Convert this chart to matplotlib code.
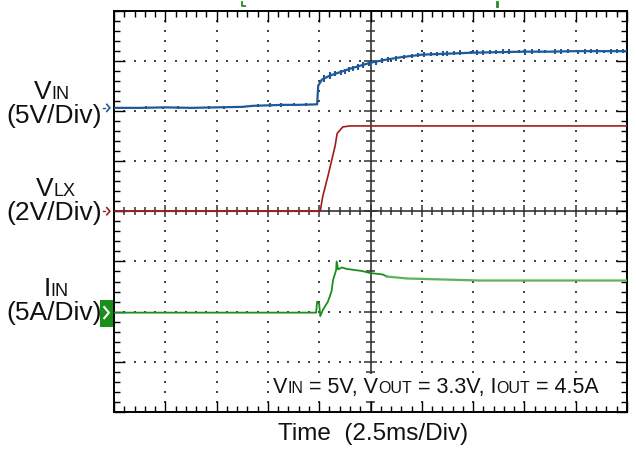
import numpy as np
import matplotlib
matplotlib.use("Agg")
import matplotlib.pyplot as plt
from matplotlib.collections import LineCollection
from matplotlib.patches import Rectangle
from matplotlib.offsetbox import TextArea, HPacker, AnnotationBbox

plt.rcParams['font.family'] = ['Liberation Sans', 'DejaVu Sans']

# scope screen: 10 x 8 divisions
N_XDIV, N_YDIV = 10, 8

# VIN trace (blue), time in div, level in div
vin_t = [0.0, 0.5, 1.0, 1.5, 2.0, 2.5, 2.7, 3.0, 3.3, 3.6, 3.96, 3.98, 4.05, 4.2,
         4.4, 4.6, 4.8, 5.0, 5.3, 5.6, 6.0, 6.5, 7.0, 7.5, 8.0, 8.5, 9.0, 9.5, 10.0]
vin_v = [6.06, 6.06, 6.07, 6.06, 6.07, 6.08, 6.10, 6.11, 6.12, 6.12, 6.13, 6.50, 6.62, 6.70,
         6.77, 6.84, 6.90, 6.96, 7.02, 7.07, 7.12, 7.14, 7.16, 7.17, 7.18, 7.18, 7.19, 7.19, 7.19]
# noise glitches on VIN
vin_spk_t = [0.10, 0.35, 0.62, 0.95, 1.25, 1.55, 1.85, 2.15, 2.50, 2.80, 3.05, 3.25, 3.50, 3.75,
             4.10, 4.22, 4.30, 4.42, 4.50, 4.58, 4.65, 4.75, 4.85, 4.97, 5.10, 5.22, 5.35, 5.50,
             5.65, 5.80, 5.92, 6.05, 6.18, 6.30, 6.42, 6.50, 6.62, 6.75, 6.95, 7.08, 7.20, 7.33,
             7.45, 7.58, 7.70, 7.90, 8.02, 8.15, 8.28, 8.40, 8.60, 8.72, 8.85, 9.05, 9.18, 9.30,
             9.42, 9.55, 9.68, 9.80, 9.92]
vin_spk_lo = [6.03, 6.04, 6.03, 6.04, 6.03, 6.04, 6.04, 6.03, 6.05, 6.07, 6.08, 6.08, 6.09, 6.10,
              6.58, 6.64, 6.69, 6.72, 6.73, 6.77, 6.80, 6.82, 6.86, 6.90, 6.92, 6.95, 6.98, 7.00,
              7.03, 7.05, 7.07, 7.08, 7.09, 7.10, 7.10, 7.10, 7.11, 7.12, 7.13, 7.11, 7.12, 7.14,
              7.14, 7.13, 7.13, 7.15, 7.12, 7.14, 7.15, 7.15, 7.13, 7.14, 7.15, 7.14, 7.13, 7.15,
              7.14, 7.16, 7.14, 7.15, 7.15]
vin_spk_hi = [6.08, 6.08, 6.09, 6.08, 6.09, 6.08, 6.09, 6.09, 6.10, 6.13, 6.15, 6.16, 6.15, 6.15,
              6.72, 6.78, 6.80, 6.82, 6.84, 6.88, 6.90, 6.93, 6.97, 6.99, 7.01, 7.05, 7.08, 7.10,
              7.12, 7.14, 7.15, 7.17, 7.17, 7.18, 7.19, 7.20, 7.20, 7.21, 7.20, 7.22, 7.22, 7.21,
              7.22, 7.23, 7.23, 7.22, 7.24, 7.24, 7.23, 7.22, 7.23, 7.24, 7.24, 7.22, 7.24, 7.24,
              7.23, 7.22, 7.24, 7.23, 7.24]

# VLX trace (red)
vlx_t = [0.0, 4.02, 4.07, 4.17, 4.31, 4.35, 4.46, 4.60, 6.0, 8.0, 10.0]
vlx_v = [4.00, 4.00, 4.30, 4.70, 5.30, 5.55, 5.68, 5.70, 5.70, 5.70, 5.70]

# IIN trace (green)
iin_t = [0.0, 3.63, 3.94, 3.96, 4.00, 4.02, 4.07, 4.17, 4.24, 4.27, 4.33, 4.34, 4.37,
         4.44, 4.54, 4.83, 4.99, 5.24, 5.32]
iin_v = [1.98, 1.98, 1.98, 2.20, 2.15, 1.91, 2.03, 2.20, 2.40, 2.63, 2.83, 3.00, 2.84,
         2.88, 2.85, 2.81, 2.77, 2.74, 2.70]
iin_t2 = [5.32, 5.71, 7.13, 8.5, 10.0]
iin_v2 = [2.70, 2.66, 2.62, 2.62, 2.62]

BLUE = '#1f5a98'
RED = '#a01c1c'
GREEN = '#1e8c1e'
GREEN_LT = '#5cb35c'

fig = plt.figure(figsize=(6.36, 4.58), dpi=100)
ax = fig.add_axes([114 / 636, 46 / 458, 513 / 636, 401.5 / 458])
ax.set_xlim(0, N_XDIV)
ax.set_ylim(0, N_YDIV)

# frame ticks on all four sides
ax.set_xticks(np.arange(0, N_XDIV + 1))
ax.set_yticks(np.arange(0, N_YDIV + 1))
ax.set_xticks(np.arange(0, N_XDIV + 0.01, 0.2), minor=True)
ax.set_yticks(np.arange(0, N_YDIV + 0.01, 0.2), minor=True)
ax.tick_params(which='both', direction='in', top=True, right=True,
               labelbottom=False, labelleft=False, color='black')
ax.tick_params(which='major', length=8, width=1.0)
ax.tick_params(which='minor', length=4, width=1.0)
for sp in ax.spines.values():
    sp.set_linewidth(1.4)

# dotted graticule
gx, gy = [], []
for xv in range(1, N_XDIV):
    if xv == 5:
        continue
    for yv in np.arange(0.2, N_YDIV, 0.2):
        gx.append(xv)
        gy.append(yv)
for yv in range(1, N_YDIV):
    if yv == 4:
        continue
    for xv in np.arange(0.2, N_XDIV, 0.2):
        gx.append(xv)
        gy.append(yv)
ax.scatter(gx, gy, s=1.3, marker='s', color='#444444', linewidths=0, zorder=1)

# center cross with fine ticks
ax.axvline(5, color='#333333', lw=1.2, zorder=1)
ax.axhline(4, color='#333333', lw=1.2, zorder=1)
segs = []
for yv in np.arange(0.2, N_YDIV, 0.2):
    h = 0.12 if abs(yv - round(yv)) < 1e-6 else 0.08
    segs.append([(5 - h, yv), (5 + h, yv)])
for xv in np.arange(0.2, N_XDIV, 0.2):
    h = 0.12 if abs(xv - round(xv)) < 1e-6 else 0.08
    segs.append([(xv, 4 - h), (xv, 4 + h)])
ax.add_collection(LineCollection(segs, colors='#333333', linewidths=1.1, zorder=1))

# traces
ax.plot(vin_t, vin_v, color=BLUE, lw=1.6, zorder=3)
ax.vlines(vin_spk_t, vin_spk_lo, vin_spk_hi, color=BLUE, lw=1.5, zorder=3)
ax.plot(vlx_t, vlx_v, color=RED, lw=1.2, zorder=3)
ax.plot(iin_t, iin_v, color=GREEN, lw=1.3, zorder=3)
ax.plot(iin_t2, iin_v2, color=GREEN_LT, lw=1.6, zorder=3)

# channel ground markers on the left edge
for lvl, col in [(vin_v[0], BLUE), (vlx_v[0], RED)]:
    ax.plot([-0.22, -0.17], [lvl, lvl], color=col, lw=1.0, clip_on=False)
    ax.plot([-0.14, -0.08, -0.14], [lvl + 0.07, lvl, lvl - 0.07], color=col, lw=1.2,
            clip_on=False)
ax.add_patch(Rectangle((-0.275, 1.70), 0.265, 0.53, facecolor='#1a8f1a', edgecolor='none',
                       clip_on=False, zorder=4))
ax.plot([-0.19, -0.10, -0.19], [iin_v[0] + 0.11, iin_v[0], iin_v[0] - 0.11], color='white',
        lw=1.5, clip_on=False, zorder=5)

# trigger position markers above the screen
ax.plot([2.49, 2.49, 2.56], [8.17, 8.09, 8.09], color=GREEN, lw=1.3, clip_on=False)
ax.plot([7.47, 7.47], [8.08, 8.16], color=GREEN, lw=2.0, clip_on=False)


def packed_label(parts, x, y, align=(0.5, 0.0), box=False, pad=0.0):
    areas = [TextArea(s, textprops=dict(fontsize=fs, color='#111111')) for s, fs in parts]
    pack = HPacker(children=areas, align='baseline', pad=0, sep=0)
    ab = AnnotationBbox(pack, (x, 458 - y), xycoords='figure pixels', frameon=box,
                        box_alignment=align, pad=pad,
                        bboxprops=dict(facecolor='white', edgecolor='none'))
    ab.set_zorder(6)
    fig.add_artist(ab)


BIG, SUB = 19, 13
packed_label([('V', BIG), ('IN', SUB)], 52, 104)
packed_label([('(5V/Div)', BIG)], 54, 128)
packed_label([('V', BIG), ('LX', SUB)], 56, 201)
packed_label([('(2V/Div)', BIG)], 54, 225)
packed_label([('I', BIG), ('IN', SUB)], 56, 301)
packed_label([('(5A/Div)', BIG)], 54, 325)

packed_label([('V', 15.5), ('IN', 11.5), (' = 5V, V', 15.5), ('OUT', 11.5), (' = 3.3V, I', 15.5),
              ('OUT', 11.5), (' = 4.5A', 15.5)], 273, 398, align=(0.0, 0.0), box=True, pad=0.2)

fig.text(373 / 636, 1 - 440 / 458, 'Time  (2.5ms/Div)', fontsize=17.5, ha='center',
         va='baseline', color='#111111')

fig.savefig('out.png', dpi=100)
